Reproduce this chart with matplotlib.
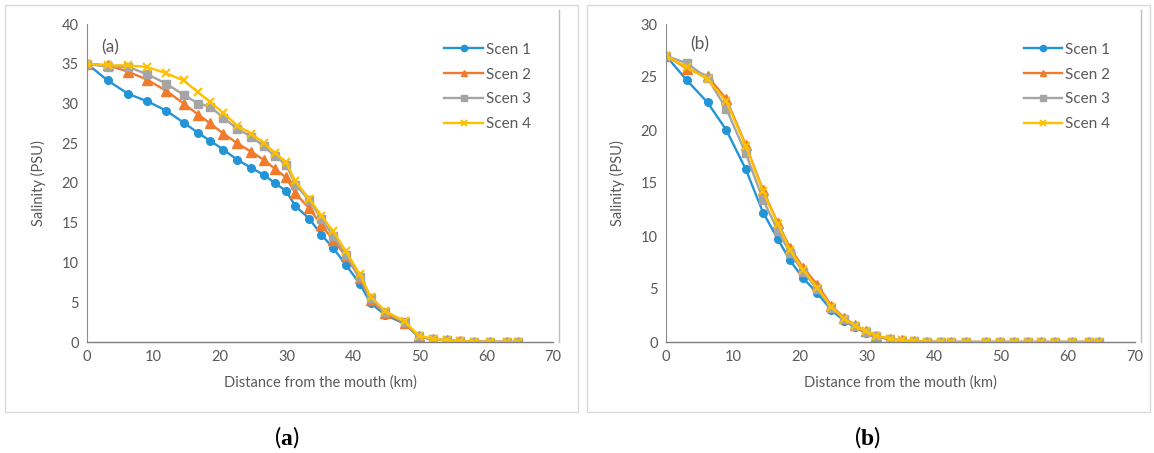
import matplotlib
matplotlib.use("Agg")
import matplotlib.pyplot as plt
from matplotlib.patches import Rectangle
from matplotlib.lines import Line2D

# Stations along the estuary (km from the mouth)
distance_km = [0, 3.1, 6.2, 9.0, 11.9, 14.5, 16.7, 18.5, 20.5, 22.6, 24.7, 26.6,
               28.2, 29.9, 31.3, 33.4, 35.2, 37.0, 38.9, 41.0, 42.6, 44.8, 47.7,
               49.8, 52.0, 54.1, 56.0, 58.1, 60.6, 63.1, 64.7]

scenario_names = ["Scen 1", "Scen 2", "Scen 3", "Scen 4"]

# Panel (a) salinity (PSU)
sal_a_scen1 = [35, 32.9, 31.2, 30.3, 29.1, 27.6, 26.3, 25.3, 24.2, 22.9, 21.9, 21.0,
               20.0, 19.0, 17.1, 15.5, 13.5, 11.8, 9.7, 7.3, 4.9, 3.4, 2.3,
               0.65, 0.35, 0.2, 0.1, 0.05, 0.02, 0, 0]
sal_a_scen2 = [35, 34.8, 34.0, 33.0, 31.6, 30.0, 28.6, 27.5, 26.2, 25.0, 23.9, 22.9,
               21.8, 20.7, 18.7, 16.8, 14.7, 12.8, 10.8, 8.0, 5.3, 3.6, 2.4,
               0.7, 0.35, 0.2, 0.1, 0.05, 0.02, 0, 0]
sal_a_scen3 = [35, 34.6, 34.6, 33.7, 32.5, 31.1, 30.0, 29.6, 28.2, 26.8, 25.8, 24.6,
               23.4, 22.3, 19.8, 17.8, 15.5, 13.3, 11.0, 8.2, 5.5, 3.8, 2.5,
               0.75, 0.35, 0.2, 0.1, 0.05, 0.02, 0, 0]
sal_a_scen4 = [35, 34.8, 34.8, 34.6, 33.8, 32.9, 31.4, 30.2, 28.8, 27.2, 26.2, 25.0,
               23.8, 22.6, 20.2, 18.0, 15.9, 13.9, 11.4, 8.5, 5.7, 3.9, 2.6,
               0.8, 0.4, 0.2, 0.1, 0.05, 0.02, 0, 0]

# Panel (b) salinity (PSU)
sal_b_scen1 = [27, 24.7, 22.6, 20.0, 16.3, 12.2, 9.7, 7.7, 6.0, 4.6, 3.0, 2.0,
               1.4, 0.85, 0.5, 0.25, 0.12, 0.05, 0.02, 0, 0, 0, 0,
               0, 0, 0, 0, 0, 0, 0, 0]
sal_b_scen2 = [27, 25.8, 25.1, 22.9, 18.6, 14.3, 11.2, 8.9, 7.0, 5.4, 3.4, 2.3,
               1.6, 1.0, 0.6, 0.3, 0.15, 0.08, 0.03, 0, 0, 0, 0,
               0, 0, 0, 0, 0, 0, 0, 0]
sal_b_scen3 = [27, 26.3, 24.9, 22.0, 17.8, 13.4, 10.5, 8.4, 6.6, 5.0, 3.2, 2.2,
               1.5, 0.95, 0.55, 0.3, 0.12, 0.06, 0.02, 0, 0, 0, 0,
               0, 0, 0, 0, 0, 0, 0, 0]
sal_b_scen4 = [27, 25.9, 24.8, 22.7, 18.5, 14.2, 11.1, 8.7, 6.8, 5.1, 3.3, 2.2,
               1.55, 1.0, 0.6, 0.3, 0.15, 0.07, 0.03, 0, 0, 0, 0,
               0, 0, 0, 0, 0, 0, 0, 0]

x_ticks = [0, 10, 20, 30, 40, 50, 60, 70]
y_ticks_a = [0, 5, 10, 15, 20, 25, 30, 35, 40]
y_ticks_b = [0, 5, 10, 15, 20, 25, 30]

colors = ["#2394d6", "#f07b2c", "#a5a5a5", "#ffc000"]
markers = ["o", "^", "s", "x"]
msizes = [5.5, 6.5, 5.5, 6]

TEXT = "#595959"
AXIS = "#8c8c8c"
FRAME = "#d9d9d9"
FONT = ["Lato", "DejaVu Sans"]

plt.rcParams["font.family"] = FONT
plt.rcParams["mathtext.fontset"] = "custom"
plt.rcParams["mathtext.rm"] = "Liberation Serif"
plt.rcParams["mathtext.bf"] = "Liberation Serif:bold"

W, H = 1154, 453
fig = plt.figure(figsize=(W / 100, H / 100), dpi=100)


def px_box(x0, y0, x1, y1):
    """Convert a pixel box (top-left origin) into figure coordinates."""
    return [x0 / W, 1 - y1 / H, (x1 - x0) / W, (y1 - y0) / H]


def draw_panel(ax_box, frame_box, right_line_x, series, y_ticks, ymax, tag, tag_xy,
               caption, caption_x, legend_anchor):
    # outer chart frame
    fx0, fy0, fx1, fy1 = frame_box
    fig.patches.append(Rectangle((fx0 / W, 1 - fy1 / H), (fx1 - fx0) / W, (fy1 - fy0) / H,
                                 transform=fig.transFigure, fill=False,
                                 edgecolor=FRAME, linewidth=1.0))
    ax = fig.add_axes(px_box(*ax_box))
    for name, vals, c, m, ms in zip(scenario_names, series, colors, markers, msizes):
        kw = dict(color=c, marker=m, markersize=ms, linewidth=1.7, label=name)
        if m == "x":
            kw["markeredgewidth"] = 1.5
        ax.plot(distance_km, vals, **kw)
    ax.set_xlim(0, 70)
    ax.set_ylim(0, ymax)
    ax.set_xticks(x_ticks)
    ax.set_yticks(y_ticks)
    ax.tick_params(length=0, labelsize=10.5, labelcolor=TEXT, pad=6)
    for s in ["top", "right"]:
        ax.spines[s].set_visible(False)
    ax.spines["left"].set_color(AXIS)
    ax.spines["bottom"].set_color("#7f7f7f")
    ax.spines["bottom"].set_linewidth(1.0)
    ax.set_xlabel("Distance from the mouth (km)", fontsize=10.5, color=TEXT, labelpad=8)
    ax.set_ylabel("Salinity (PSU)", fontsize=10.5, color=TEXT, labelpad=11)
    ax.text(tag_xy[0], tag_xy[1], tag, fontsize=12.5, color=TEXT,
            transform=ax.transData, ha="left", va="center")
    leg = ax.legend(loc="upper left", bbox_to_anchor=legend_anchor, frameon=False,
                    fontsize=11, labelcolor=TEXT, handlelength=2.5, handletextpad=0.2,
                    labelspacing=0.7, borderaxespad=0)
    for h in leg.legend_handles:
        h.set_markersize(4.5)
    # plot-area right edge
    fig.add_artist(Line2D([right_line_x / W] * 2, [1 - 342 / H, 1 - 10 / H],
                          transform=fig.transFigure, color="#bfbfbf", linewidth=1.0))
    fig.text(caption_x / W, 1 - 437 / H, caption, fontsize=17, ha="center", va="center",
             color="black")
    return ax


draw_panel((87, 24, 553, 342), (5, 5, 578, 412), 559,
           [sal_a_scen1, sal_a_scen2, sal_a_scen3, sal_a_scen4],
           y_ticks_a, 40, "(a)", (2.2, 37.0), r"($\mathbf{a}$)", 287, (0.754, 0.96))
draw_panel((666, 24, 1135, 342), (587, 5, 1150, 412), 1141,
           [sal_b_scen1, sal_b_scen2, sal_b_scen3, sal_b_scen4],
           y_ticks_b, 30, "(b)", (3.6, 28.1), r"($\mathbf{b}$)", 867, (0.750, 0.96))

fig.savefig("out.png", dpi=100)
